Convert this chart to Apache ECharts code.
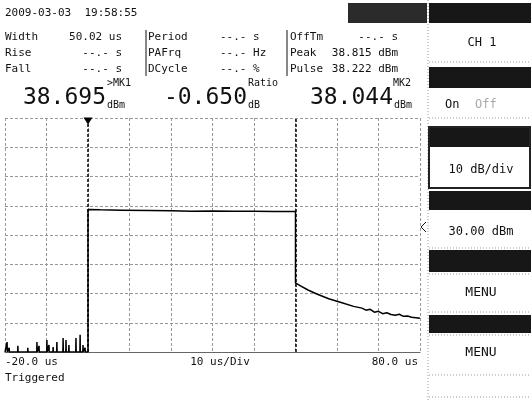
<!DOCTYPE html>
<html>
<head>
<meta charset="utf-8">
<script src="https://cdn.jsdelivr.net/npm/echarts@6/dist/echarts.min.js"></script>
<style>
  html, body { margin: 0; padding: 0; background: #fff; }
  #chart { width: 531px; height: 401px; }
</style>
</head>
<body>
<div id="chart"></div>
<script>
// time axis (us) and power axis (dBm)
const xTicks = [-20, 80, 10];
const yTicks = [-10, 70, 10];

// noise spikes before the trigger
const spikeT = [-19.5, -19.0, -16.9, -14.5, -12.3, -11.8, -9.9, -9.4, -8.4, -7.5, -6.0, -5.3, -4.6, -2.9, -1.9, -1.2, -0.7];
const spikeDb = [-6.6, -8.6, -7.9, -8.6, -6.6, -7.9, -5.9, -7.6, -8.3, -6.6, -5.2, -5.9, -7.6, -5.2, -4.1, -7.6, -8.6];

// pulse and falling tail
const pulseT = [0, 0, 3, 8, 15, 20, 25, 30, 35, 40, 45, 50, 50, 51, 53, 55, 58, 61, 64, 66, 67, 68, 69, 70, 71, 72, 73, 74, 75, 76, 77, 78, 79, 80];
const pulseDb = [-10, 38.7, 38.6, 38.5, 38.4, 38.3, 38.1, 38.2, 38.15, 38.1, 38.05, 38.04, 13.6, 12.8, 11.2, 9.9, 8.2, 6.9, 5.6, 5.0, 4.3, 4.6, 3.6, 3.9, 3.1, 3.4, 2.8, 2.6, 2.9, 2.2, 2.3, 1.9, 1.7, 1.5];

const markerT = [0, 50];

const rowLabels = [['Width', 'Rise', 'Fall'], ['Period', 'PAFrq', 'DCycle'], ['OffTm', 'Peak', 'Pulse']];
const rowValues = [['50.02 us', '--.- s', '--.- s'], ['--.- s', '--.- Hz', '--.- %'], ['--.- s', '38.815 dBm', '38.222 dBm']];
const bigValues = ['38.695', '-0.650', '38.044'];
const bigTags = ['>MK1', 'Ratio', 'MK2'];
const bigUnits = ['dBm', 'dB', 'dBm'];
const softKeys = ['CH 1', '', '10 dB/div', '30.00 dBm', 'MENU', 'MENU'];

const trace = [[-20, -10]];
spikeT.forEach((t, i) => {
  trace.push([t - 0.05, -10], [t, spikeDb[i]], [t + 0.05, -10]);
});
pulseT.forEach((t, i) => trace.push([t, pulseDb[i]]));

const FONT = '"DejaVu Sans Mono", monospace';
const ink = '#111';

function txt(text, x, y, size, align, color) {
  return {
    type: 'text', x: x, y: y, silent: true,
    style: {
      text: text, font: size + 'px ' + FONT, fill: color || ink,
      textAlign: align || 'left', verticalAlign: 'middle'
    }
  };
}
function rect(x, y, w, h, fill) {
  return { type: 'rect', silent: true, shape: { x: x, y: y, width: w, height: h }, style: { fill: fill } };
}
function dotted(x1, y1, x2, y2) {
  return { type: 'line', silent: true, shape: { x1: x1, y1: y1, x2: x2, y2: y2 },
    style: { stroke: '#999', lineWidth: 1, lineDash: [1, 2] } };
}

const g = [];
g.push(txt('2009-03-03  19:58:55', 5, 13, 11));

// readout table
const rowY = [37, 53, 69];
const labelX = [5, 148, 290];
const valueX = [122, 220, 398];
const valueAlign = ['right', 'left', 'right'];
rowLabels.forEach((col, c) => {
  col.forEach((lab, r) => {
    g.push(txt(lab, labelX[c], rowY[r], 11));
    g.push(txt(rowValues[c][r], valueX[c], rowY[r], 11, valueAlign[c]));
  });
});
g.push({ type: 'line', silent: true, shape: { x1: 146, y1: 30, x2: 146, y2: 76 }, style: { stroke: ink, lineWidth: 1 } });
g.push({ type: 'line', silent: true, shape: { x1: 287, y1: 30, x2: 287, y2: 76 }, style: { stroke: ink, lineWidth: 1 } });

// big marker readings
const bigRight = [106, 247, 393];
bigValues.forEach((v, i) => {
  g.push(txt(v, bigRight[i], 98, 23, 'right'));
  g.push(txt(bigUnits[i], bigRight[i] + 1, 105, 10));
});
g.push(txt(bigTags[0], 107, 83, 10));
g.push(txt(bigTags[1], 248, 83, 10));
g.push(txt(bigTags[2], 411, 83, 10, 'right'));

// axis captions
g.push(txt('-20.0 us', 5, 362, 11));
g.push(txt('10 us/Div', 220, 362, 11, 'center'));
g.push(txt('80.0 us', 418, 362, 11, 'right'));
g.push(txt('Triggered', 5, 378, 11));

// reference arrow
g.push({ type: 'polyline', silent: true, shape: { points: [[426, 222], [421, 227], [426, 232]] },
  style: { stroke: ink, lineWidth: 1, fill: null } });

// soft key panel
g.push(dotted(428, 0, 428, 401));
g.push(rect(348, 3, 79, 20, '#2b2b2b'));
g.push(rect(429, 3, 102, 20, '#171717'));
g.push(txt(softKeys[0], 482, 43, 12, 'center'));
g.push(dotted(429, 62, 531, 62));
g.push(rect(429, 67, 102, 21, '#171717'));
g.push(txt('On', 445, 105, 12));
g.push(txt('Off', 475, 105, 12, 'left', '#aaa'));
g.push(dotted(429, 118, 531, 118));
g.push(rect(429, 127, 102, 20, '#171717'));
g.push({ type: 'rect', silent: true, shape: { x: 429, y: 127, width: 101, height: 61 },
  style: { fill: null, stroke: '#222', lineWidth: 2 } });
g.push(txt(softKeys[2], 481, 170, 12, 'center'));
g.push(rect(429, 191, 102, 19, '#171717'));
g.push(txt(softKeys[3], 481, 232, 12, 'center'));
g.push(dotted(429, 248, 531, 248));
g.push(rect(429, 250, 102, 22, '#171717'));
g.push(dotted(429, 274, 531, 274));
g.push(txt(softKeys[4], 481, 293, 13, 'center'));
g.push(dotted(429, 312, 531, 312));
g.push(rect(429, 315, 102, 18, '#171717'));
g.push(dotted(429, 335, 531, 335));
g.push(txt(softKeys[5], 481, 353, 13, 'center'));
g.push(dotted(429, 375, 531, 375));
g.push(dotted(429, 397, 531, 397));

const chart = echarts.init(document.getElementById('chart'));
chart.setOption({
  animation: false,
  backgroundColor: '#fff',
  grid: { left: 5, right: 111, top: 118, bottom: 49 },
  xAxis: {
    type: 'value', min: xTicks[0], max: xTicks[1], interval: xTicks[2],
    axisLine: { show: true, onZero: false, lineStyle: { color: '#666', width: 1 } },
    axisTick: { show: false }, axisLabel: { show: false },
    splitLine: { show: true, lineStyle: { color: '#999', type: [3, 2], width: 1 } }
  },
  yAxis: {
    type: 'value', min: yTicks[0], max: yTicks[1], interval: yTicks[2],
    axisLine: { show: false },
    axisTick: { show: false }, axisLabel: { show: false },
    splitLine: { show: true, lineStyle: { color: '#999', type: [3, 2], width: 1 } }
  },
  series: [{
    type: 'line',
    data: trace,
    showSymbol: false,
    lineStyle: { color: '#000', width: 1.5 },
    markLine: {
      silent: true, symbol: 'none',
      label: { show: false },
      lineStyle: { color: '#000', type: [3, 2], width: 1.5 },
      data: markerT.map(t => ({ xAxis: t }))
    },
    markPoint: {
      silent: true,
      symbol: 'triangle', symbolRotate: 180, symbolSize: [9, 7], symbolOffset: [0, 3],
      itemStyle: { color: '#000' },
      label: { show: false },
      data: [{ coord: [markerT[0], yTicks[1]] }]
    }
  }],
  graphic: g
});
</script>
</body>
</html>
